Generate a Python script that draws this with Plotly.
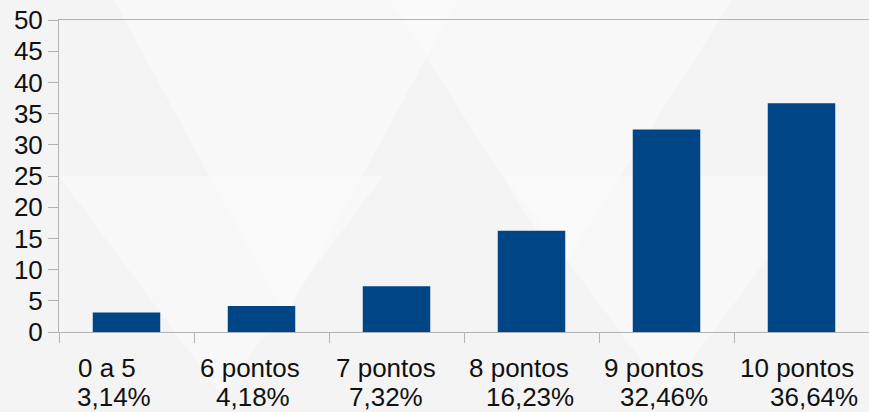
import plotly.graph_objects as go

categories = ["0 a 5", "6 pontos", "7 pontos", "8 pontos", "9 pontos", "10 pontos"]
values = [3.14, 4.18, 7.32, 16.23, 32.46, 36.64]
pct_labels = ["3,14%", "4,18%", "7,32%", "16,23%", "32,46%", "36,64%"]
y_ticks = [0, 5, 10, 15, 20, 25, 30, 35, 40, 45, 50]

# horizontal nudges (px) of the two label lines, as laid out in the original
name_shift = [-20, -12, -11, -13, -13, -5]
pct_shift = [-13, -9, -11, -2, -3, 12]

FONT = "Liberation Sans, Arial, sans-serif"
FS = 26
TXT = "#111111"

fig = go.Figure()
fig.add_trace(go.Bar(x=categories, y=values, marker=dict(color="#004586", line=dict(width=0)),
                     hoverinfo="skip"))

# faint decorative background triangles (paper coordinates)
tri = [
    ((0.28, 0.05), (0.50, 1.1), (0.06, 1.1)),
    ((0.62, 0.2), (0.84, 1.1), (0.40, 1.1)),
    ((0.20, -0.2), (0.40, 0.5), (0.00, 0.5)),
    ((0.75, -0.2), (0.95, 0.5), (0.55, 0.5)),
]
shapes = []
for (a, b, c) in tri:
    shapes.append(dict(type="path", xref="paper", yref="paper", layer="below",
                       path=f"M {a[0]} {a[1]} L {b[0]} {b[1]} L {c[0]} {c[1]} Z",
                       fillcolor="rgba(255,255,255,0.35)", line=dict(width=0)))

annotations = []
for cat, name, lab, s1, s2 in zip(categories, categories, pct_labels, name_shift, pct_shift):
    annotations.append(dict(x=cat, y=0, xref="x", yref="y", text=name, showarrow=False,
                            yanchor="middle", xanchor="center", yshift=-36, xshift=s1,
                            font=dict(family=FONT, size=FS, color=TXT)))
    annotations.append(dict(x=cat, y=0, xref="x", yref="y", text=lab, showarrow=False,
                            yanchor="middle", xanchor="center", yshift=-65, xshift=s2,
                            font=dict(family=FONT, size=FS, color=TXT)))

fig.update_layout(
    width=869, height=412,
    margin=dict(l=59, r=0, t=20, b=80),
    paper_bgcolor="#f4f4f4",
    plot_bgcolor="rgba(0,0,0,0)",
    bargap=0.5,
    showlegend=False,
    font=dict(family=FONT, size=FS, color=TXT),
    shapes=shapes,
    annotations=annotations,
    xaxis=dict(type="category", tickmode="array", tickvals=categories,
               showticklabels=False,
               tickson="boundaries", ticks="outside", ticklen=10, tickcolor="#b3b3b3",
               showline=True, linecolor="#b3b3b3", linewidth=1, mirror=True,
               showgrid=False),
    yaxis=dict(range=[0, 50], tickmode="array", tickvals=y_ticks,
               ticks="outside", ticklen=10, tickcolor="#b3b3b3",
               showline=True, linecolor="#b3b3b3", linewidth=1,
               showgrid=False, zeroline=False,
               tickfont=dict(family=FONT, size=FS, color=TXT)),
)

fig.write_html("out.html", config={"displayModeBar": False},
               post_script="document.body.style.margin='0';document.body.style.overflow='hidden';")
